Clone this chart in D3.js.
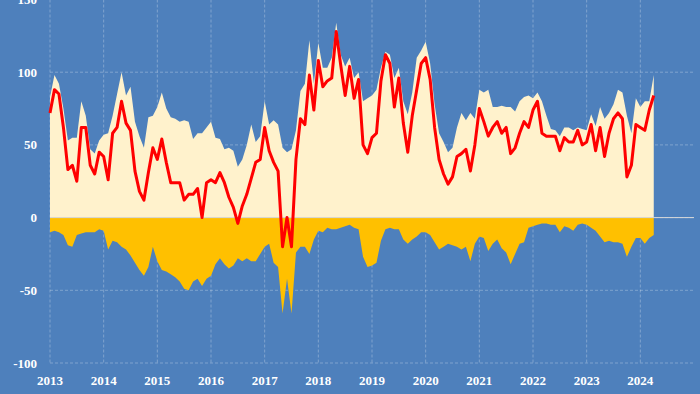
<!DOCTYPE html>
<html>
<head>
<meta charset="utf-8">
<script src="https://cdn.jsdelivr.net/npm/d3@7"></script>
<style>
	html, body { margin: 0; padding: 0; background: #4e80bc; }
	svg { display: block; }
	.tick-label { font-family: "Liberation Serif", serif; font-weight: bold; font-size: 13px; fill: #ffffff; }
</style>
</head>
<body>
<div id="chart"></div>
<script>
// monthly readings, first point January 2013
const startYear = 2013;

// light yellow area (above zero)
const positive = [
	83, 98, 92, 75, 53, 55, 55, 80, 70, 47, 44, 53,
	57, 58, 70, 85, 100, 84, 90, 66, 56, 48, 69, 70,
	76, 86, 75, 69, 68, 66, 67, 66, 54, 58, 58, 62,
	66, 55, 54, 47, 48, 46, 35, 40, 50, 64, 52, 56,
	80, 64, 67, 64, 48, 45, 47, 60, 87, 92, 122, 92,
	120, 103, 103, 110, 134, 112, 104, 110, 96, 100, 80, 82,
	84, 88, 103, 114, 112, 96, 103, 80, 71, 86, 110, 115,
	121, 106, 78, 58, 52, 45, 48, 62, 72, 67, 72, 68,
	88, 86, 88, 76, 76, 77, 76, 76, 73, 80, 83, 84,
	82, 86, 80, 70, 61, 60, 56, 62, 62, 60, 62, 61,
	60, 71, 63, 76, 68, 72, 78, 88, 86, 70, 58, 82,
	76, 80, 80, 98
];

// gold area (below zero)
const negative = [
	-10, -9, -10, -12, -19, -20, -12, -11, -10, -10, -10, -8,
	-9, -22, -16, -17, -20, -22, -26, -31, -36, -40, -34, -20,
	-30, -36, -37, -39, -41, -44, -49, -50, -44, -42, -47, -42,
	-40, -32, -28, -32, -35, -33, -28, -30, -28, -30, -30, -25,
	-20, -18, -31, -34, -66, -42, -66, -24, -20, -20, -25, -15,
	-9, -10, -7, -8, -8, -7, -6, -5, -7, -8, -27, -34,
	-33, -31, -16, -8, -7, -8, -8, -15, -18, -15, -13, -10,
	-10, -12, -17, -22, -20, -18, -19, -20, -22, -20, -30, -18,
	-13, -14, -23, -18, -15, -21, -24, -32, -25, -18, -17, -7,
	-6, -5, -4, -4, -5, -5, -10, -6, -7, -9, -5, -4,
	-5, -7, -9, -13, -17, -16, -17, -17, -18, -27, -20, -14,
	-14, -18, -14, -12
];

// red line
const net = [
	72, 88, 85, 62, 33, 36, 25, 62, 62, 36, 30, 45,
	42, 26, 58, 62, 80, 65, 60, 32, 18, 12, 31, 48,
	40, 54, 38, 24, 24, 24, 12, 16, 16, 20, 0, 24,
	26, 24, 31, 24, 14, 7, -4, 8, 16, 27, 38, 40,
	62, 46, 38, 32, -20, 0, -20, 40, 68, 64, 98, 74,
	108, 90, 94, 96, 128, 105, 84, 104, 82, 95, 50, 44,
	55, 58, 94, 112, 106, 76, 96, 65, 45, 70, 88, 106,
	110, 95, 62, 40, 30, 23, 28, 42, 44, 47, 32, 50,
	75, 66, 56, 62, 66, 58, 62, 44, 48, 58, 66, 62,
	74, 80, 58, 56, 56, 56, 46, 55, 52, 52, 60, 50,
	52, 64, 46, 62, 42, 58, 68, 72, 68, 28, 36, 64,
	62, 60, 74, 84
];

const yTicks = [-100, -50, 0, 50, 100, 150];
const xTicks = [2013, 2014, 2015, 2016, 2017, 2018, 2019, 2020, 2021, 2022, 2023, 2024];

const width = 700;
const height = 394;

const data = positive.map((p, i) => ({
	t: startYear + i / 12,
	pos: p,
	neg: negative[i],
	net: net[i],
}));

const svg = d3
	.select("#chart")
	.append("svg")
	.attr("width", width)
	.attr("height", height);

svg.append("rect")
	.attr("width", width)
	.attr("height", height)
	.attr("fill", "#4e80bc");

const x = d3.scaleLinear().domain([2013, 2025]).range([50, 694]);
const y = d3.scaleLinear().domain([-100, 150]).range([363, -0.5]);

// grid
svg.append("g")
	.selectAll("line")
	.data(yTicks)
	.enter()
	.append("line")
	.attr("x1", x(2013))
	.attr("x2", x(2025))
	.attr("y1", (d) => y(d))
	.attr("y2", (d) => y(d))
	.attr("stroke", "rgba(255,255,255,0.28)")
	.attr("stroke-dasharray", "3,2");

svg.append("g")
	.selectAll("line")
	.data(xTicks)
	.enter()
	.append("line")
	.attr("x1", (d) => x(d))
	.attr("x2", (d) => x(d))
	.attr("y1", y(150))
	.attr("y2", y(-100))
	.attr("stroke", "rgba(255,255,255,0.28)")
	.attr("stroke-dasharray", "3,2");

const posArea = d3
	.area()
	.x((d) => x(d.t))
	.y0(y(0))
	.y1((d) => y(d.pos));

const negArea = d3
	.area()
	.x((d) => x(d.t))
	.y0(y(0))
	.y1((d) => y(d.neg));

svg.append("path").datum(data).attr("d", posArea).attr("fill", "#fff2cc");
svg.append("path").datum(data).attr("d", negArea).attr("fill", "#ffc000");

// zero line
svg.append("line")
	.attr("x1", x(2013))
	.attr("x2", x(2025))
	.attr("y1", y(0))
	.attr("y2", y(0))
	.attr("stroke", "#d9d9d9")
	.attr("stroke-width", 1);

const line = d3
	.line()
	.x((d) => x(d.t))
	.y((d) => y(d.net));

svg.append("path")
	.datum(data)
	.attr("d", line)
	.attr("fill", "none")
	.attr("stroke", "#ff0000")
	.attr("stroke-width", 3)
	.attr("stroke-linejoin", "round");

// axis labels
svg.append("g")
	.selectAll("text")
	.data(yTicks)
	.enter()
	.append("text")
	.attr("class", "tick-label")
	.attr("x", 37)
	.attr("y", (d) => y(d))
	.attr("dy", "0.35em")
	.attr("text-anchor", "end")
	.text((d) => d);

svg.append("g")
	.selectAll("text")
	.data(xTicks)
	.enter()
	.append("text")
	.attr("class", "tick-label")
	.attr("x", (d) => x(d))
	.attr("y", 385)
	.attr("text-anchor", "middle")
	.text((d) => d);
</script>
</body>
</html>
